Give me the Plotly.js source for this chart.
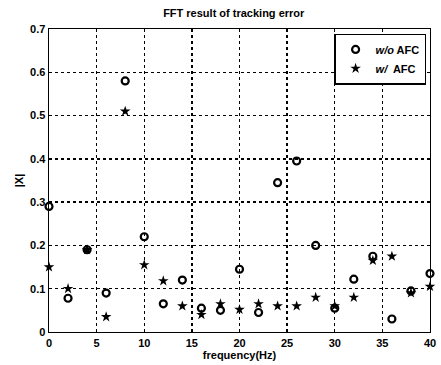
<!DOCTYPE html>
<html><head><meta charset="utf-8">
<script src="https://cdn.plot.ly/plotly-3.0.1.min.js"></script>
<style>body{margin:0;background:#fff}#c{width:441px;height:365px}</style>
</head><body><div id="c"></div>
<script>
const freq = [0,2,4,6,8,10,12,14,16,18,20,22,24,26,28,30,32,34,36,38,40];
const withoutAFC = [0.29,0.078,0.19,0.09,0.58,0.22,0.065,0.12,0.055,0.05,0.145,0.045,0.345,0.395,0.2,0.055,0.122,0.175,0.03,0.095,0.135];
const withAFC = [0.15,0.1,0.19,0.035,0.51,0.155,0.118,0.06,0.04,0.065,0.052,0.065,0.06,0.06,0.08,0.06,0.08,0.165,0.175,0.09,0.105];
const xTicks = [0,5,10,15,20,25,30,35,40];
const yTicks = [0,0.1,0.2,0.3,0.4,0.5,0.6,0.7];
const F = 'Liberation Sans, Arial, sans-serif';
const traces = [
 {x:freq,y:withoutAFC,mode:'markers',type:'scatter',name:'<i>w/o</i> AFC',
  marker:{symbol:'circle-open',size:7,color:'#000',line:{width:2.2,color:'#000'}},cliponaxis:false},
 {x:freq,y:withAFC,mode:'markers',type:'scatter',name:'<i>w/</i>  AFC',
  marker:{symbol:'star',size:8,color:'#000',line:{width:0}},cliponaxis:false}
];
const ax = {showgrid:true,gridcolor:'#000',griddash:'3px,3px',gridwidth:1.4,zeroline:false,
 showline:true,linecolor:'#000',linewidth:1.4,mirror:true,ticks:'',
 tickfont:{family:F,size:11,color:'#000',weight:'bold'}};
const layout = {
 width:441,height:365,margin:{l:49,r:11,t:29,b:33},
 paper_bgcolor:'#fff',plot_bgcolor:'#fff',
 title:{text:'<b>FFT result of tracking error</b>',font:{family:F,size:11,color:'#000'},x:0.53,xanchor:'center',y:0.975,yanchor:'top'},
 xaxis:Object.assign({},ax,{range:[0,40],tickvals:xTicks,ticktext:xTicks.map(String),
   title:{text:'<b>frequency(Hz)</b>',font:{family:F,size:11,color:'#000'},standoff:2}}),
 yaxis:Object.assign({},ax,{range:[0,0.7],tickvals:yTicks,ticktext:yTicks.map(v=>v.toFixed(1)).map((s,i)=>i===0?'0':s),
   title:{text:'<b>|X|</b>',font:{family:F,size:11,color:'#000'},standoff:4}}),
 showlegend:true,
 legend:{x:0.99,y:0.985,xanchor:'right',yanchor:'top',bgcolor:'#fff',bordercolor:'#000',borderwidth:1.4,
  font:{family:F,size:11,color:'#000',weight:'bold'},tracegroupgap:0,itemwidth:30}
};
Plotly.newPlot('c',traces,layout,{displayModeBar:false,staticPlot:true});
</script></body></html>
